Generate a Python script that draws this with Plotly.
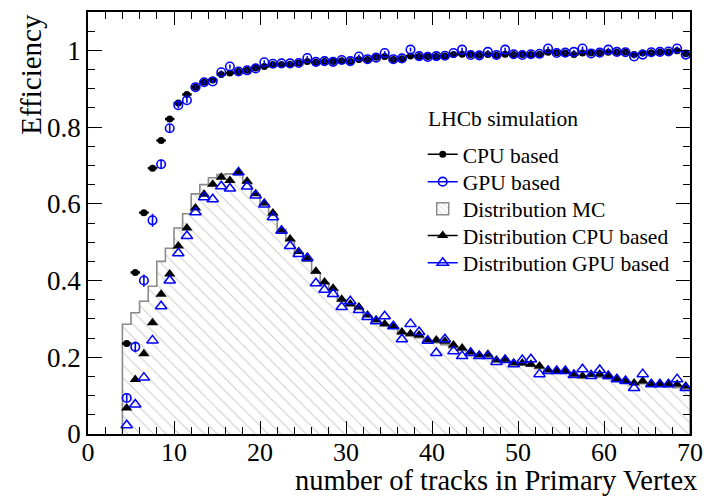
import plotly.graph_objects as go

# ---------------- data ----------------
bin_edges_lo = list(range(4, 70))            # bins of width 1 from 4 to 70
bin_centers = [b + 0.5 for b in bin_edges_lo]

eff_cpu = [0.236, 0.421, 0.577, 0.693, 0.765, 0.821, 0.863, 0.885, 0.904, 0.917,
           0.923, 0.937, 0.941, 0.945, 0.948, 0.954, 0.958, 0.963, 0.963, 0.964,
           0.967, 0.971, 0.969, 0.971, 0.971, 0.973, 0.971, 0.976, 0.976, 0.982,
           0.984, 0.976, 0.978, 0.985, 0.984, 0.984, 0.984, 0.985, 0.989, 0.990,
           0.989, 0.987, 0.989, 0.987, 0.990, 0.989, 0.989, 0.989, 0.990, 0.995,
           0.994, 0.993, 0.989, 0.993, 0.993, 0.994, 0.995, 0.995, 0.995, 0.989,
           0.993, 0.994, 0.995, 0.996, 0.999, 0.991]
eff_gpu = [0.094, 0.227, 0.400, 0.557, 0.703, 0.797, 0.857, 0.870, 0.904, 0.917,
           0.919, 0.943, 0.958, 0.945, 0.948, 0.953, 0.969, 0.965, 0.966, 0.966,
           0.967, 0.980, 0.970, 0.972, 0.970, 0.975, 0.972, 0.984, 0.977, 0.981,
           0.993, 0.977, 0.979, 1.002, 0.985, 0.983, 0.985, 0.986, 0.993, 1.002,
           0.988, 0.987, 0.996, 0.988, 1.002, 0.990, 0.988, 0.990, 0.991, 1.005,
           0.993, 0.994, 0.996, 1.005, 0.992, 0.994, 1.002, 0.996, 0.995, 0.984,
           0.989, 0.995, 0.996, 0.997, 1.005, 0.989]
eff_gpu_err = [0.010, 0.014, 0.016, 0.017, 0.012, 0.010, 0.008, 0.007, 0.006, 0.006,
               0.005, 0.005, 0.005, 0.005, 0.005, 0.005, 0.005, 0.005, 0.005, 0.005,
               0.005, 0.005, 0.005, 0.005, 0.005, 0.005, 0.005, 0.005, 0.005, 0.005,
               0.005, 0.005, 0.005, 0.005, 0.005, 0.005, 0.005, 0.005, 0.005, 0.005,
               0.005, 0.005, 0.005, 0.005, 0.005, 0.005, 0.005, 0.005, 0.005, 0.005,
               0.005, 0.005, 0.005, 0.005, 0.005, 0.005, 0.005, 0.005, 0.005, 0.005,
               0.005, 0.005, 0.005, 0.005, 0.005, 0.005]

dist_mc = [0.286, 0.316, 0.346, 0.385, 0.450, 0.484, 0.537, 0.574, 0.626, 0.650,
           0.668, 0.676, 0.678, 0.675, 0.655, 0.624, 0.598, 0.570, 0.533, 0.505,
           0.472, 0.452, 0.420, 0.394, 0.376, 0.350, 0.337, 0.326, 0.308, 0.296,
           0.285, 0.276, 0.262, 0.256, 0.251, 0.242, 0.238, 0.233, 0.224, 0.218,
           0.209, 0.204, 0.200, 0.192, 0.189, 0.182, 0.180, 0.177, 0.171, 0.165,
           0.162, 0.160, 0.154, 0.150, 0.150, 0.148, 0.144, 0.139, 0.135, 0.131,
           0.131, 0.126, 0.125, 0.123, 0.121, 0.117]
dist_cpu = [0.068, 0.142, 0.209, 0.290, 0.364, 0.417, 0.490, 0.537, 0.589, 0.625,
            0.651, 0.669, 0.661, 0.682, 0.659, 0.626, 0.602, 0.576, 0.531, 0.508,
            0.476, 0.456, 0.424, 0.396, 0.380, 0.351, 0.339, 0.331, 0.310, 0.297,
            0.287, 0.281, 0.266, 0.261, 0.258, 0.245, 0.245, 0.242, 0.232, 0.224,
            0.214, 0.206, 0.208, 0.193, 0.195, 0.185, 0.185, 0.182, 0.177, 0.167,
            0.164, 0.164, 0.156, 0.151, 0.156, 0.156, 0.151, 0.143, 0.138, 0.133,
            0.138, 0.130, 0.130, 0.130, 0.130, 0.125]
dist_gpu = [0.023, 0.077, 0.147, 0.244, 0.333, 0.400, 0.471, 0.516, 0.578, 0.617,
            0.612, 0.646, 0.640, 0.682, 0.645, 0.622, 0.598, 0.565, 0.530, 0.490,
            0.469, 0.459, 0.393, 0.376, 0.365, 0.331, 0.346, 0.323, 0.305, 0.294,
            0.307, 0.281, 0.247, 0.287, 0.266, 0.243, 0.211, 0.247, 0.216, 0.203,
            0.211, 0.203, 0.203, 0.188, 0.193, 0.182, 0.193, 0.195, 0.156, 0.164,
            0.164, 0.164, 0.154, 0.169, 0.151, 0.167, 0.151, 0.143, 0.138, 0.120,
            0.156, 0.130, 0.130, 0.130, 0.143, 0.120]

x_ticks = [0, 10, 20, 30, 40, 50, 60, 70]
y_ticks = [0, 0.2, 0.4, 0.6, 0.8, 1]

legend_names = ["CPU based", "GPU based", "Distribution MC",
                "Distribution CPU based", "Distribution GPU based"]

FONT = "Liberation Serif"
BLUE = "#0000ff"
GRAY = "#8a8a8a"
HATCH = dict(shape="\\", fgcolor="#9c9c9c", bgcolor="white", size=9, solidity=0.12)

# step outline for MC histogram, built from bin edges and contents
step_x = [bin_edges_lo[0]] + bin_edges_lo + [bin_edges_lo[-1] + 1, bin_edges_lo[-1] + 1]
step_y = [0] + dist_mc + [dist_mc[-1], 0]

fig = go.Figure()

fig.add_trace(go.Scatter(
    x=step_x, y=step_y, mode="lines", line=dict(shape="hv", color=GRAY, width=1.6),
    fill="tozeroy", fillcolor="white", fillpattern=HATCH, showlegend=False))

fig.add_trace(go.Scatter(
    x=bin_centers, y=dist_cpu, mode="markers",
    marker=dict(symbol="triangle-up", size=10, color="black"),
    showlegend=False))
fig.add_trace(go.Scatter(
    x=bin_centers, y=dist_gpu, mode="markers",
    marker=dict(symbol="triangle-up-open", size=10, color=BLUE, line=dict(width=1.5, color=BLUE)),
    showlegend=False))

fig.add_trace(go.Scatter(
    x=bin_centers, y=eff_cpu, mode="markers",
    marker=dict(symbol="circle", size=7, color="black"),
    error_x=dict(type="constant", value=0.55, width=0, thickness=2.5, color="black"),
    showlegend=False))
fig.add_trace(go.Scatter(
    x=bin_centers, y=eff_gpu, mode="markers",
    marker=dict(symbol="circle-open", size=8.5, color=BLUE, line=dict(width=1.6, color=BLUE)),
    error_y=dict(type="data", array=eff_gpu_err, width=0, thickness=1.6, color=BLUE),
    showlegend=False))

# legend entries (ROOT-style "lp" symbols), one legend box per row
fig.add_trace(go.Scatter(x=[None], y=[None], mode="lines+markers", name=legend_names[0],
                         line=dict(color="black", width=1.5),
                         marker=dict(symbol="circle", size=7, color="black"), legend="legend"))
fig.add_trace(go.Scatter(x=[None], y=[None], mode="lines+markers", name=legend_names[1],
                         line=dict(color=BLUE, width=1.5),
                         marker=dict(symbol="circle-open", size=8.5, color=BLUE, line=dict(width=1.6)),
                         legend="legend2"))
fig.add_trace(go.Bar(x=[None], y=[None], name=legend_names[2],
                     marker=dict(color="white", pattern=dict(shape="\\", fgcolor="#9c9c9c", bgcolor="white",
                                                             size=5, solidity=0.2),
                                 line=dict(color=GRAY, width=1.5)),
                     legend="legend3"))
fig.add_trace(go.Scatter(x=[None], y=[None], mode="lines+markers", name=legend_names[3],
                         line=dict(color="black", width=1.5),
                         marker=dict(symbol="triangle-up", size=10, color="black"), legend="legend4"))
fig.add_trace(go.Scatter(x=[None], y=[None], mode="lines+markers", name=legend_names[4],
                         line=dict(color=BLUE, width=1.5),
                         marker=dict(symbol="triangle-up-open", size=10, color=BLUE, line=dict(width=1.5)),
                         legend="legend5"))

axis_common = dict(
    showline=True, linecolor="black", linewidth=1.5, mirror="allticks",
    ticks="inside", tickcolor="black", tickwidth=1.3,
    showgrid=False, zeroline=False,
)

fig.update_xaxes(range=[0, 70], tickvals=x_ticks, ticklen=13, ticklabelstandoff=-6,
                 tickfont=dict(family=FONT, size=26, color="black"),
                 minor=dict(dtick=2, ticklen=7, tickcolor="black", tickwidth=1.1, ticks="inside"),
                 **axis_common)
fig.update_yaxes(range=[0, 1.1], tickvals=y_ticks, ticklen=14,
                 tickfont=dict(family=FONT, size=27, color="black"),
                 minor=dict(dtick=0.05, ticklen=7, tickcolor="black", tickwidth=1.1, ticks="inside"),
                 **axis_common)

PLOT_TOP, PLOT_BOTTOM = 10, 434


def py(pix):
    """pixel row -> paper y"""
    return (PLOT_BOTTOM - pix) / (PLOT_BOTTOM - PLOT_TOP)


row_pix = [153, 180.5, 207.7, 234.7, 262]
legend_common = dict(x=0.556, xanchor="left", yanchor="middle",
                     bgcolor="rgba(0,0,0,0)", borderwidth=0,
                     font=dict(family=FONT, size=21.5, color="black"), itemwidth=30)
legends = {}
for i, key in enumerate(["legend", "legend2", "legend3", "legend4", "legend5"]):
    legends[key] = dict(y=py(row_pix[i]), **legend_common)

fig.update_layout(
    width=713, height=497,
    margin=dict(l=88, r=17, t=PLOT_TOP, b=497 - PLOT_BOTTOM),
    paper_bgcolor="white", plot_bgcolor="white",
    font=dict(family=FONT, color="black"),
    showlegend=True,
    annotations=[
        dict(text="number of tracks in Primary Vertex", xref="paper", yref="paper",
             x=1.0, y=py(480.5), xanchor="right", yanchor="middle", showarrow=False, xshift=8,
             borderpad=0, font=dict(family=FONT, size=28.5, color="black")),
        dict(text="Efficiency", xref="paper", yref="paper", textangle=-90,
             x=-0.0959, y=py(10), xanchor="center", yanchor="top", showarrow=False,
             font=dict(family=FONT, size=29, color="black")),
        dict(text="LHCb simulation", xref="paper", yref="paper",
             x=0.5615, y=py(118), xanchor="left", yanchor="middle", showarrow=False,
             font=dict(family=FONT, size=21.5, color="black")),
    ],
    **legends,
)

fig.write_html("out.html")
